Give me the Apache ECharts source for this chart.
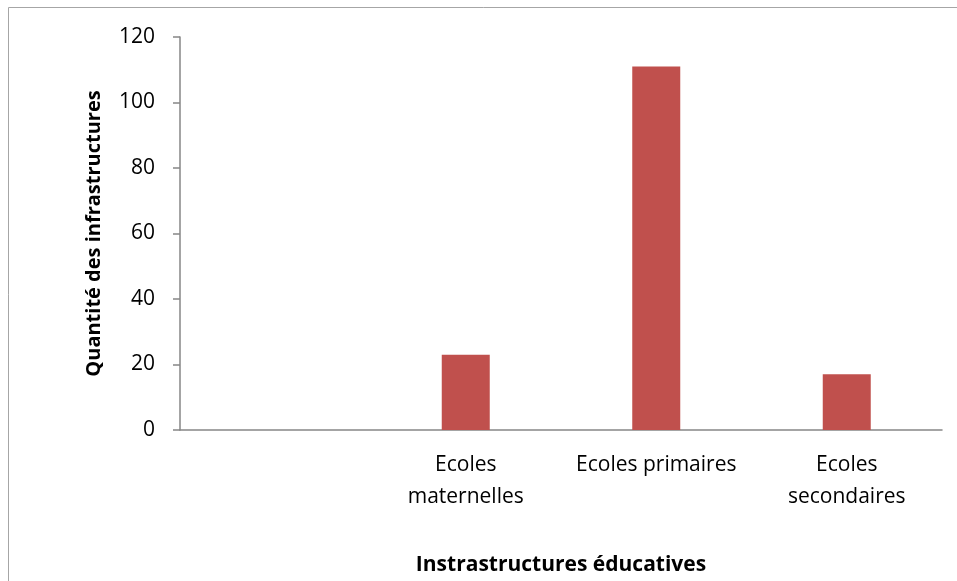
<!DOCTYPE html>
<html>
<head>
<meta charset="utf-8">
<script src="https://cdn.jsdelivr.net/npm/echarts@6/dist/echarts.min.js"></script>
<style>
  html, body { margin: 0; padding: 0; background: #fff; }
  #chart { width: 957px; height: 581px; }
</style>
</head>
<body>
<div id="chart"></div>
<script>
// categories (the first slot is empty in the original)
const categories = ['', 'Ecoles\nmaternelles', 'Ecoles primaires', 'Ecoles\nsecondaires']
const quantities = [null, 23, 111, 17]
const yTicks = { min: 0, max: 120, interval: 20 }

const font = "'Open Sans', 'Liberation Sans', sans-serif"
const axisGrey = '#868686'

const chart = echarts.init(document.getElementById('chart'))
chart.setOption({
  animation: false,
  textStyle: { fontFamily: font },
  graphic: [{
    type: 'rect',
    shape: { x: 8.5, y: 7.5, width: 1000, height: 1000 },
    style: { fill: 'none', stroke: '#a6a6a6', lineWidth: 1 },
    silent: true
  }],
  grid: { left: 180, right: 15, top: 37, bottom: 151 },
  xAxis: {
    type: 'category',
    data: categories,
    name: 'Instrastructures éducatives',
    nameLocation: 'middle',
    nameGap: 125,
    nameTextStyle: { fontSize: 21, fontWeight: 'bold', color: '#000', fontFamily: font },
    axisLine: { lineStyle: { color: axisGrey, width: 1.5 } },
    axisTick: { show: false },
    axisLabel: { fontSize: 21, color: '#000', lineHeight: 32, margin: 19, interval: 0, fontFamily: font }
  },
  yAxis: {
    type: 'value',
    min: yTicks.min,
    max: yTicks.max,
    interval: yTicks.interval,
    name: 'Quantité des infrastructures',
    nameLocation: 'middle',
    nameGap: 76,
    nameTextStyle: { fontSize: 20, fontWeight: 'bold', color: '#000', fontFamily: font },
    axisLine: { show: true, lineStyle: { color: axisGrey, width: 1.5 } },
    axisTick: { show: true, length: 7, lineStyle: { color: axisGrey, width: 1.5 } },
    splitLine: { show: false },
    axisLabel: { fontSize: 21, color: '#000', margin: 25, fontFamily: font }
  },
  series: [{
    type: 'bar',
    data: quantities,
    barWidth: 48,
    itemStyle: { color: '#C0504D' }
  }]
})
</script>
</body>
</html>
